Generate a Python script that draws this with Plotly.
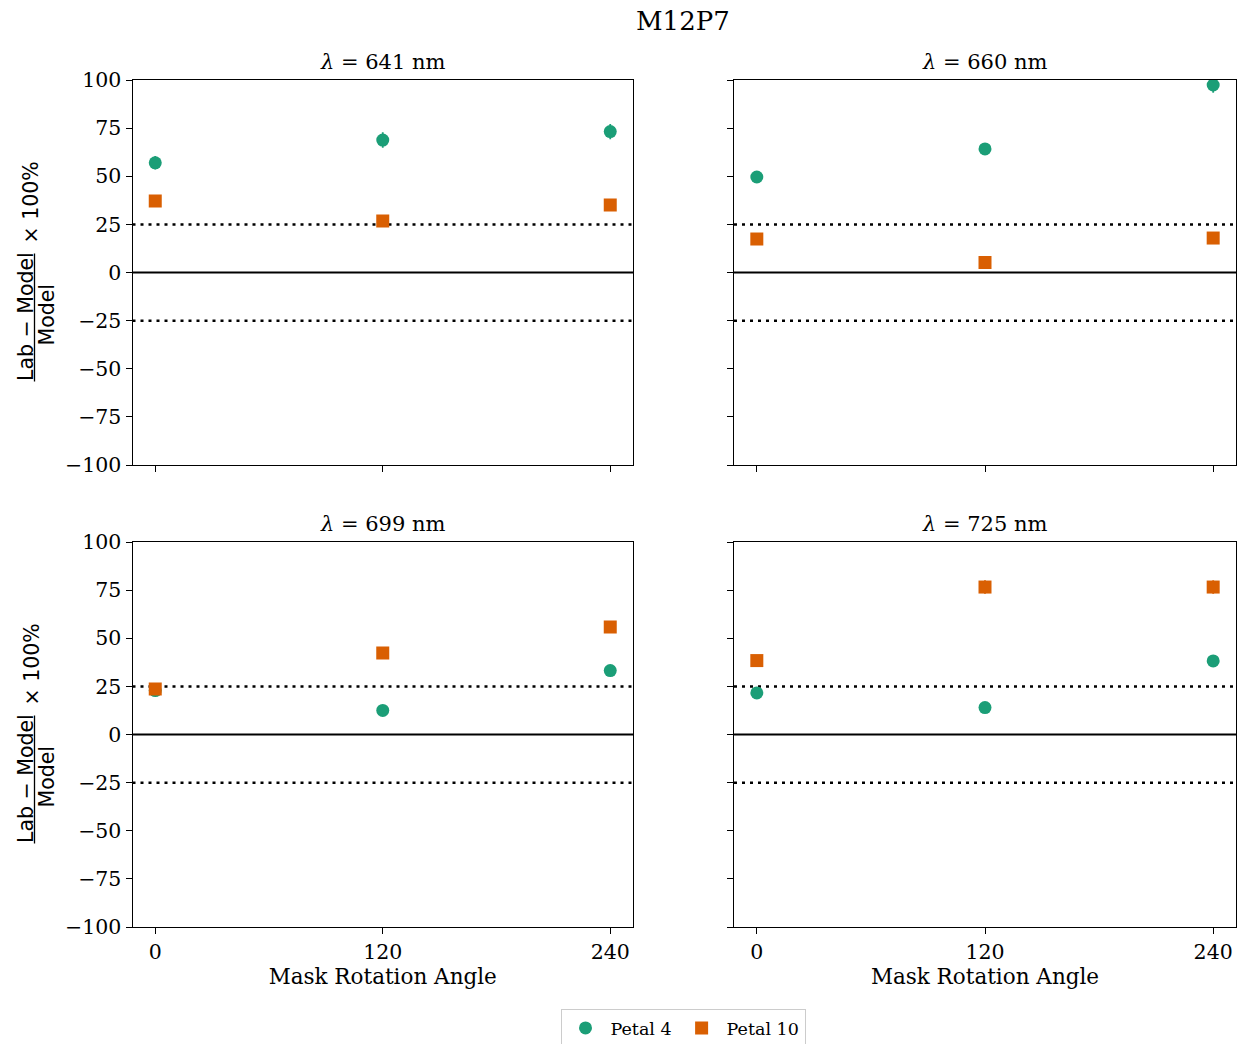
import plotly.graph_objects as go

# Measurement results per wavelength panel
angles = [0, 120, 240]
panel_titles = ["641", "660", "699", "725"]

petal4_641 = [57.0, 68.8, 73.2]
petal4_641_err = [3.5, 4.0, 4.0]
petal10_641 = [37.1, 26.8, 35.1]
petal10_641_err = [1.5, 1.5, 1.5]

petal4_660 = [49.6, 64.2, 97.4]
petal4_660_err = [1.5, 3.0, 4.0]
petal10_660 = [17.4, 5.2, 17.9]
petal10_660_err = [1.0, 1.0, 1.0]

petal4_699 = [22.8, 12.5, 33.2]
petal4_699_err = [1.0, 1.0, 1.5]
petal10_699 = [23.6, 42.3, 55.8]
petal10_699_err = [1.5, 1.5, 3.0]

petal4_725 = [21.6, 14.0, 38.2]
petal4_725_err = [1.0, 1.0, 1.5]
petal10_725 = [38.4, 76.6, 76.6]
petal10_725_err = [1.5, 3.5, 3.5]

y_ticks = [-100, -75, -50, -25, 0, 25, 50, 75, 100]

series = [
    (petal4_641, petal4_641_err, petal10_641, petal10_641_err),
    (petal4_660, petal4_660_err, petal10_660, petal10_660_err),
    (petal4_699, petal4_699_err, petal10_699, petal10_699_err),
    (petal4_725, petal4_725_err, petal10_725, petal10_725_err),
]

GREEN = "#1b9e77"
ORANGE = "#d95f02"
SERIF = "DejaVu Serif"
SANS = "DejaVu Sans"

W, H = 1243, 1044
ML, MR, MT, MB = 130, 6, 80, 117
PW, PH = W - ML - MR, H - MT - MB


def px_x(p):
    return (p - ML) / PW


def px_y(p):
    return (H - MB - p) / PH


x_domains = [[px_x(132.5), px_x(633)], [px_x(734), px_x(1236)]]
y_domains = [[px_y(465), px_y(80)], [px_y(927), px_y(542)]]

fig = go.Figure()
layout = {}
annotations = []
shapes = []

for i, (p4, p4e, p10, p10e) in enumerate(series):
    row, col = divmod(i, 2)
    n = i + 1
    xa = "x" if n == 1 else f"x{n}"
    ya = "y" if n == 1 else f"y{n}"
    fig.add_trace(go.Scatter(
        x=angles, y=p4, mode="markers", name="Petal 4",
        marker=dict(color=GREEN, size=13, symbol="circle"),
        error_y=dict(type="data", array=p4e, color=GREEN, thickness=1.8, width=0),
        xaxis=xa, yaxis=ya, showlegend=(i == 0), legendgroup="p4",
    ))
    fig.add_trace(go.Scatter(
        x=angles, y=p10, mode="markers", name="Petal 10",
        marker=dict(color=ORANGE, size=13, symbol="square"),
        error_y=dict(type="data", array=p10e, color=ORANGE, thickness=1.8, width=0),
        xaxis=xa, yaxis=ya, showlegend=(i == 0), legendgroup="p10",
    ))

    axis_common = dict(
        showline=True, linecolor="black", linewidth=1, mirror=True,
        ticks="outside", ticklen=6, tickwidth=1, tickcolor="black",
        showgrid=False, zeroline=False,
        tickfont=dict(family=SERIF, size=20.5, color="black"),
    )
    xkey = "xaxis" if n == 1 else f"xaxis{n}"
    ykey = "yaxis" if n == 1 else f"yaxis{n}"
    layout[xkey] = dict(
        axis_common, domain=x_domains[col], anchor=ya, range=[-12, 252],
        tickvals=angles, showticklabels=(row == 1),
        title=dict(text="Mask Rotation Angle" if row == 1 else "",
                   font=dict(family=SERIF, size=21.5, color="black"), standoff=4),
    )
    layout[ykey] = dict(
        axis_common, domain=y_domains[row], anchor=xa, range=[-100, 100],
        tickvals=y_ticks, showticklabels=(col == 0),
    )

    # reference lines: zero and +/-25 %
    shapes.append(dict(type="line", xref=f"{xa} domain", yref=ya, x0=0, x1=1, y0=0, y1=0,
                       line=dict(color="black", width=2), layer="below"))
    for lvl in (25, -25):
        shapes.append(dict(type="line", xref=f"{xa} domain", yref=ya, x0=0, x1=1, y0=lvl, y1=lvl,
                           line=dict(color="black", width=2.5, dash="3px,5px"), layer="below"))

    # panel title
    annotations.append(dict(
        text=f"<i>λ</i> = {panel_titles[i]} nm", xref="paper", yref="paper",
        x=sum(x_domains[col]) / 2, y=y_domains[row][1], yshift=4,
        xanchor="center", yanchor="bottom", showarrow=False,
        font=dict(family=SERIF, size=21, color="black"),
    ))

# y-axis label drawn as a rotated fraction for each row
for row_center in (272.5, 734.5):
    annotations.append(dict(
        text="Lab − Model", xref="paper", yref="paper",
        x=px_x(25.5), y=px_y(row_center + 44), textangle=-90,
        xanchor="center", yanchor="middle", showarrow=False,
        font=dict(family=SANS, size=20.5, color="black"),
    ))
    annotations.append(dict(
        text="Model", xref="paper", yref="paper",
        x=px_x(46), y=px_y(row_center + 42), textangle=-90,
        xanchor="center", yanchor="middle", showarrow=False,
        font=dict(family=SANS, size=20.5, color="black"),
    ))
    annotations.append(dict(
        text="× 100%", xref="paper", yref="paper",
        x=px_x(31), y=px_y(row_center - 70), textangle=-90,
        xanchor="center", yanchor="middle", showarrow=False,
        font=dict(family=SANS, size=20.5, color="black"),
    ))
    shapes.append(dict(
        type="line", xref="paper", yref="paper",
        x0=px_x(34.5), x1=px_x(34.5), y0=px_y(row_center - 19), y1=px_y(row_center + 109),
        line=dict(color="black", width=1.3),
    ))

# figure title
annotations.append(dict(
    text="M12P7", xref="paper", yref="paper", x=px_x(683), y=px_y(21),
    xanchor="center", yanchor="middle", showarrow=False,
    font=dict(family=SERIF, size=26, color="black"),
))

fig.update_layout(
    width=W, height=H,
    margin=dict(l=ML, r=MR, t=MT, b=MB, autoexpand=False),
    paper_bgcolor="white", plot_bgcolor="white",
    annotations=annotations, shapes=shapes,
    legend=dict(
        orientation="h", x=px_x(683), xanchor="center", y=px_y(1009), yanchor="top",
        bordercolor="#cccccc", borderwidth=1, bgcolor="white",
        font=dict(family=SERIF, size=17.5, color="black"),
        itemwidth=40,
    ),
    **layout,
)

fig.write_html("out.html")
